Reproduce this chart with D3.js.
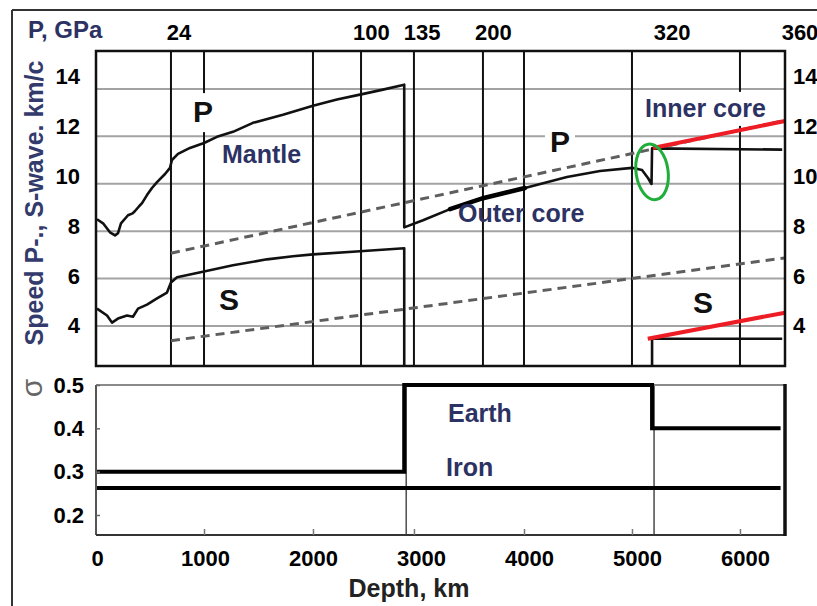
<!DOCTYPE html>
<html>
<head>
<meta charset="utf-8">
<script src="https://cdn.jsdelivr.net/npm/d3@7"></script>
<style>
  html, body { margin: 0; padding: 0; background: #fff; }
  svg { display: block; font-family: "Liberation Sans", Arial, sans-serif; font-weight: bold; }
</style>
</head>
<body>
<svg id="chart" width="817" height="606"></svg>
<script>
// ---------------- data ----------------
const depthTicks = [0, 1000, 2000, 3000, 4000, 5000, 6000];
const speedTicks = [4, 6, 8, 10, 12, 14];
const sigmaTicks = [0.2, 0.3, 0.4, 0.5];
const pressureLabels = ["24", "100", "135", "200", "320", "360"];
const pressureLabelDepth = [760, 2540, 3010, 3670, 5325, 6510];
const gridDepths = [685, 991, 2000, 2445, 2935, 3574, 3954, 4954, 5954];
const tickDepths = [991, 2000, 2935, 3954, 4954, 5954];
const boundaryDepths = [2845, 5140];

// P-wave speed, km/s (mantle, outer core, inner core)
const pWave = [
  [0, 8.50], [56, 8.33], [120, 7.95], [167, 7.82], [194, 7.91], [222, 8.33], [287, 8.67],
  [330, 8.75], [352, 8.85], [390, 9.05], [417, 9.18], [463, 9.52], [509, 9.82], [556, 10.07],
  [630, 10.41], [676, 10.67], [694, 11.0], [750, 11.26], [861, 11.51], [991, 11.72],
  [1111, 11.98], [1259, 12.19], [1444, 12.57], [1722, 12.91], [2000, 13.29], [2222, 13.55],
  [2435, 13.76], [2648, 13.97], [2845, 14.18],
  [2845, 8.16], [3019, 8.46], [3269, 8.93], [3574, 9.39], [3963, 9.82], [4352, 10.28],
  [4658, 10.54], [4954, 10.67], [5047, 10.58], [5102, 10.24], [5135, 9.99],
  [5140, 11.49], [6345, 11.44]
];
const pOuterBold = [[3269, 8.93], [3574, 9.39], [3963, 9.82]];

// S-wave speed, km/s (zero in liquid outer core)
const sWave = [
  [0, 4.73], [93, 4.44], [139, 4.14], [194, 4.31], [278, 4.44], [333, 4.39], [380, 4.73],
  [463, 4.90], [556, 5.16], [648, 5.41], [685, 5.83], [741, 6.05], [861, 6.17], [991, 6.30],
  [1259, 6.56], [1574, 6.81], [1815, 6.94], [2000, 7.02], [2435, 7.15], [2845, 7.28],
  [2845, 0], [5140, 0], [5140, 3.46], [6345, 3.46]
];

// dashed reference lines and red (inner core) lines
const dashedP = [[685, 7.07], [6371, 12.67]];
const dashedS = [[685, 3.38], [6371, 6.87]];
const redP = [[5148, 11.51], [6371, 12.65]];
const redS = [[5100, 3.46], [6371, 4.56]];

// Poisson ratio sigma
const earthSigma = [[0, 0.3], [2845, 0.3], [2845, 0.5], [5140, 0.5], [5140, 0.4], [6330, 0.4]];
const ironSigma = [[0, 0.262], [6330, 0.262]];

// annotations in data coordinates
const topNotes = [
  { text: "P", depth: 981, v: 12.60, kind: "big", bg: true },
  { text: "Mantle", depth: 1157, v: 10.875, kind: "navy", bg: false },
  { text: "S", depth: 1222, v: 4.67, kind: "big", bg: false },
  { text: "P", depth: 4287, v: 11.34, kind: "big", bg: true },
  { text: "Outer core", depth: 3343, v: 8.39, kind: "navy", bg: false },
  { text: "Inner core", depth: 5075, v: 12.82, kind: "navy", bg: true },
  { text: "S", depth: 5612, v: 4.55, kind: "big", bg: false }
];
const bottomNotes = [
  { text: "Earth", depth: 3250, s: 0.4146 },
  { text: "Iron", depth: 3232, s: 0.290 }
];
const highlight = { depth: 5140, v: 10.5 };

// ---------------- layout ----------------
const svg = d3.select("#chart");
const L = 97, R = 785;
const top1 = 51, bot1 = 366;
const top2 = 385, bot2 = 535;
const navy = "#2c3263";

const x = d3.scaleLinear().domain([0, 6371]).range([L, R]);
const y = d3.scaleLinear().domain([2.31, 15.6]).range([bot1, top1]);
const yLab = d3.scaleLinear().domain([4, 14]).range([y(4), y(14) - 12]);
const ys = d3.scaleLinear().domain([0.1538, 0.5]).range([bot2, top2]);

svg.append("rect").attr("width", 817).attr("height", 606).attr("fill", "#fff");

// outer frame
svg.append("line").attr("x1", 12).attr("y1", 10).attr("x2", 817).attr("y2", 10).attr("stroke", "#333").attr("stroke-width", 2);
svg.append("line").attr("x1", 12).attr("y1", 10).attr("x2", 12).attr("y2", 606).attr("stroke", "#333").attr("stroke-width", 2);

const gGrid = svg.append("g");
const gBox = svg.append("g");
const gMarks = svg.append("g");
const gText = svg.append("g");

// horizontal grid
gGrid.selectAll("line.h").data(speedTicks).join("line")
  .attr("x1", L).attr("x2", R).attr("y1", d => y(d)).attr("y2", d => y(d))
  .attr("stroke", "#a3a3a3").attr("stroke-width", 2);
// vertical grid
gGrid.selectAll("line.v").data(gridDepths).join("line")
  .attr("x1", d => x(d)).attr("x2", d => x(d)).attr("y1", top1).attr("y2", bot1)
  .attr("stroke", "#111").attr("stroke-width", 2);

// top panel frame
svg.append("rect").attr("x", L - 1).attr("y", top1).attr("width", R - L + 1).attr("height", bot1 - top1)
  .attr("fill", "none").attr("stroke", "#111").attr("stroke-width", 2.5);

const clip = svg.append("clipPath").attr("id", "clipTop");
clip.append("rect").attr("x", L - 1).attr("y", top1).attr("width", R - L + 2).attr("height", bot1 - top1);

const line = d3.line().x(d => x(d[0])).y(d => y(d[1]));
const lineS = d3.line().x(d => x(d[0])).y(d => ys(d[1]));

const gClip = gMarks.append("g").attr("clip-path", "url(#clipTop)");

// dashed reference lines
[dashedP, dashedS].forEach(d => {
  gClip.append("path").attr("d", line(d)).attr("fill", "none")
    .attr("stroke", "#5e5e5e").attr("stroke-width", 3).attr("stroke-dasharray", "9,6");
});
// curves
gClip.append("path").attr("d", line(pWave)).attr("fill", "none").attr("stroke", "#111")
  .attr("stroke-width", 2.6).attr("stroke-linejoin", "round");
gClip.append("path").attr("d", line(pOuterBold)).attr("fill", "none").attr("stroke", "#000")
  .attr("stroke-width", 4.5).attr("stroke-linecap", "round");
gClip.append("path").attr("d", line(sWave)).attr("fill", "none").attr("stroke", "#111")
  .attr("stroke-width", 2.6).attr("stroke-linejoin", "round");
// red inner-core lines
[redP, redS].forEach(d => {
  gClip.append("path").attr("d", line(d)).attr("fill", "none")
    .attr("stroke", "#ee1c24").attr("stroke-width", 4);
});

// green highlight ellipse
gMarks.append("ellipse")
  .attr("transform", `translate(${x(highlight.depth)},${y(highlight.v)}) rotate(-8)`)
  .attr("rx", 16).attr("ry", 28).attr("fill", "none")
  .attr("stroke", "#1fae3a").attr("stroke-width", 3);

// annotations (top panel)
topNotes.forEach(n => {
  const t = gText.append("text").text(n.text)
    .attr("x", x(n.depth)).attr("y", y(n.v))
    .attr("text-anchor", n.kind === "big" ? "middle" : "start")
    .attr("font-size", n.kind === "big" ? 30 : 25)
    .attr("fill", n.kind === "big" ? "#111" : navy);
  if (n.bg) {
    const b = t.node().getBBox();
    gBox.append("rect").attr("x", b.x - 5).attr("y", b.y - 2)
      .attr("width", b.width + 10).attr("height", b.height + 6).attr("fill", "#fff");
  }
});

// left & right speed axes
const axL = svg.append("g").attr("transform", `translate(${L - 1},0)`)
  .call(d3.axisLeft(yLab).tickValues(speedTicks).tickSize(0).tickPadding(16));
const axR = svg.append("g").attr("transform", `translate(${R},0)`)
  .call(d3.axisRight(yLab).tickValues(speedTicks).tickSize(0).tickPadding(8));
[axL, axR].forEach(a => {
  a.select(".domain").remove();
  a.selectAll("text").attr("font-size", 22).attr("font-family", "Liberation Sans, Arial, sans-serif")
    .attr("font-weight", "bold").attr("fill", "#000");
});

// pressure labels on top
svg.append("g").selectAll("text").data(pressureLabels).join("text")
  .text(d => d).attr("x", (d, i) => x(pressureLabelDepth[i])).attr("y", 40)
  .attr("text-anchor", "middle").attr("font-size", 22).attr("fill", "#000");
svg.append("text").text("P, GPa").attr("x", 28).attr("y", 38)
  .attr("font-size", 24).attr("fill", navy);

// y axis title
svg.append("text").text("Speed P-., S-wave. km/c")
  .attr("transform", "translate(43,203) rotate(-90)")
  .attr("text-anchor", "middle").attr("font-size", 25).attr("fill", "#333a6c");

// ---------------- bottom panel ----------------
const gB = svg.append("g");
gB.selectAll("line.b").data(boundaryDepths).join("line")
  .attr("x1", d => x(d) + 2).attr("x2", d => x(d) + 2).attr("y1", top2).attr("y2", bot2)
  .attr("stroke", "#555").attr("stroke-width", 1.6);
// frame
gB.append("line").attr("x1", L - 1).attr("x2", R).attr("y1", top2).attr("y2", top2).attr("stroke", "#8a8a8a").attr("stroke-width", 2);
gB.append("line").attr("x1", L - 1).attr("x2", L - 1).attr("y1", top2).attr("y2", bot2).attr("stroke", "#555").attr("stroke-width", 2);
gB.append("line").attr("x1", L - 1).attr("x2", R).attr("y1", bot2).attr("y2", bot2).attr("stroke", "#333").attr("stroke-width", 2);
gB.append("line").attr("x1", R).attr("x2", R).attr("y1", top2 - 1).attr("y2", bot2 + 1).attr("stroke", "#111").attr("stroke-width", 3.5);

gB.append("path").attr("d", lineS(earthSigma)).attr("fill", "none").attr("stroke", "#000").attr("stroke-width", 4);
gB.append("path").attr("d", lineS(ironSigma)).attr("fill", "none").attr("stroke", "#000").attr("stroke-width", 4);

bottomNotes.forEach(n => {
  gB.append("text").text(n.text).attr("x", x(n.depth)).attr("y", ys(n.s))
    .attr("font-size", 25).attr("fill", navy);
});

// sigma axis
const axS = svg.append("g").attr("transform", `translate(${L - 1},0)`)
  .call(d3.axisLeft(ys).tickValues(sigmaTicks).tickSizeInner(-4).tickSizeOuter(0).tickPadding(12).tickFormat(d3.format(".1f")));
axS.select(".domain").remove();
axS.selectAll("line").attr("stroke", "#666").attr("stroke-width", 1.5);
axS.selectAll("text").attr("font-size", 22).attr("font-family", "Liberation Sans, Arial, sans-serif")
  .attr("font-weight", "bold").attr("fill", "#000");

// depth axis: small inward ticks + labels
const axT = svg.append("g").attr("transform", `translate(0,${bot2})`)
  .call(d3.axisBottom(x).tickValues(tickDepths).tickSizeInner(-6).tickSizeOuter(0).tickFormat(""));
axT.select(".domain").remove();
axT.selectAll("line").attr("stroke", "#777").attr("stroke-width", 1.5);
const axX = svg.append("g").attr("transform", `translate(0,${bot2})`)
  .call(d3.axisBottom(x).tickValues(depthTicks).tickSize(0).tickPadding(15).tickFormat(d3.format("d")));
axX.select(".domain").remove();
axX.selectAll("text").attr("font-size", 22).attr("font-family", "Liberation Sans, Arial, sans-serif")
  .attr("font-weight", "bold").attr("fill", "#000");

svg.append("text").text("Depth, km").attr("x", 409).attr("y", 597)
  .attr("text-anchor", "middle").attr("font-size", 25).attr("fill", "#222");
svg.append("text").text("σ").attr("transform", "translate(42,388) rotate(-90)")
  .attr("text-anchor", "middle").attr("font-size", 30).attr("font-weight", "normal").attr("fill", "#666");
</script>
</body>
</html>
